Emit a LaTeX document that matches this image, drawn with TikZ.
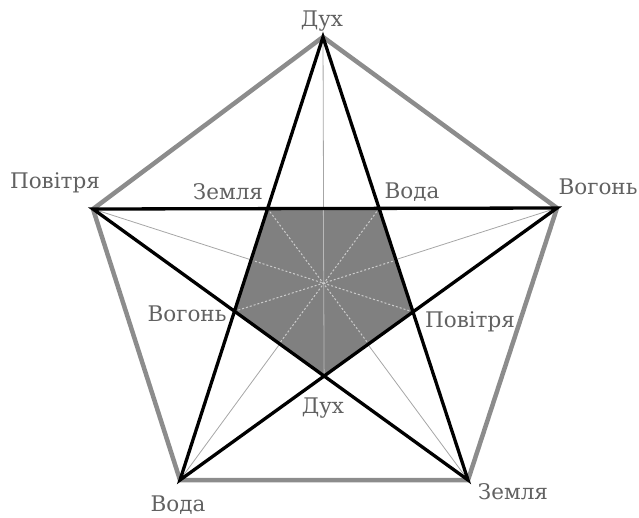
\documentclass[tikz,border=0pt]{standalone}
\usepackage{fontspec}
\setmainfont{DejaVu Serif}
\usetikzlibrary{calc,positioning}

\begin{document}
\begin{tikzpicture}[x=1pt,y=-1pt,
  lbl/.style={text=black!62,font=\fontsize{21.5}{23}\selectfont,inner sep=0pt},
  outerline/.style={draw=gray!90,line width=4.5pt,line join=round},
  starline/.style={draw=black,line width=3.3pt,line join=miter},
  thinline/.style={draw=gray!70,line width=0.8pt},
  innerdash/.style={draw=gray!40,line width=1pt,dash pattern=on 2pt off 2pt}]
\useasboundingbox (0,0) rectangle (639,517);
\coordinate (T) at (323,37); \coordinate (UL) at (93,209); \coordinate (UR) at (557,208); \coordinate (LL) at (180,480); \coordinate (LR) at (468,480);
\coordinate (Z) at (intersection of T--LL and UL--UR);
\coordinate (V) at (intersection of T--LR and UL--UR);
\coordinate (G) at (intersection of T--LL and UL--LR);
\coordinate (P) at (intersection of T--LR and UR--LL);
\coordinate (D) at (intersection of UL--LR and UR--LL);
% thin lines through the centre
\draw[thinline] (T)--(D) (UL)--(P) (UR)--(G) (LL)--(V) (LR)--(Z);
\fill[gray] (Z)--(V)--(P)--(D)--(G)--cycle;
\draw[thinline,draw=gray!55] (D)--($(Z)!0.5!(V)$);
\draw[innerdash] (Z)--($(P)!0.5!(D)$) (V)--($(G)!0.5!(D)$) (G)--($(V)!0.5!(P)$) (P)--($(Z)!0.5!(G)$);
\draw[outerline] (T)--(UR)--(LR)--(LL)--(UL)--cycle;
\draw[starline] (T)--(LL)--(UR)--(UL)--(LR)--cycle;
% labels
\node[lbl] (lT) at (322,21) {Дух};
\node[lbl] (lUL) at (55,183) {Повітря};
\node[lbl] (lUR) at (598,187) {Вогонь};
\node[lbl] (lLL) at (178,505) {Вода};
\node[lbl] (lLR) at (513,492) {Земля};
\node[lbl] (lZ) at (228,192) {Земля};
\node[lbl] (lV) at (412,192) {Вода};
\node[lbl] (lG) at (187,314) {Вогонь};
\node[lbl] (lP) at (470,322) {Повітря};
\node[lbl] (lD) at (323,408) {Дух};
\end{tikzpicture}
\end{document}
